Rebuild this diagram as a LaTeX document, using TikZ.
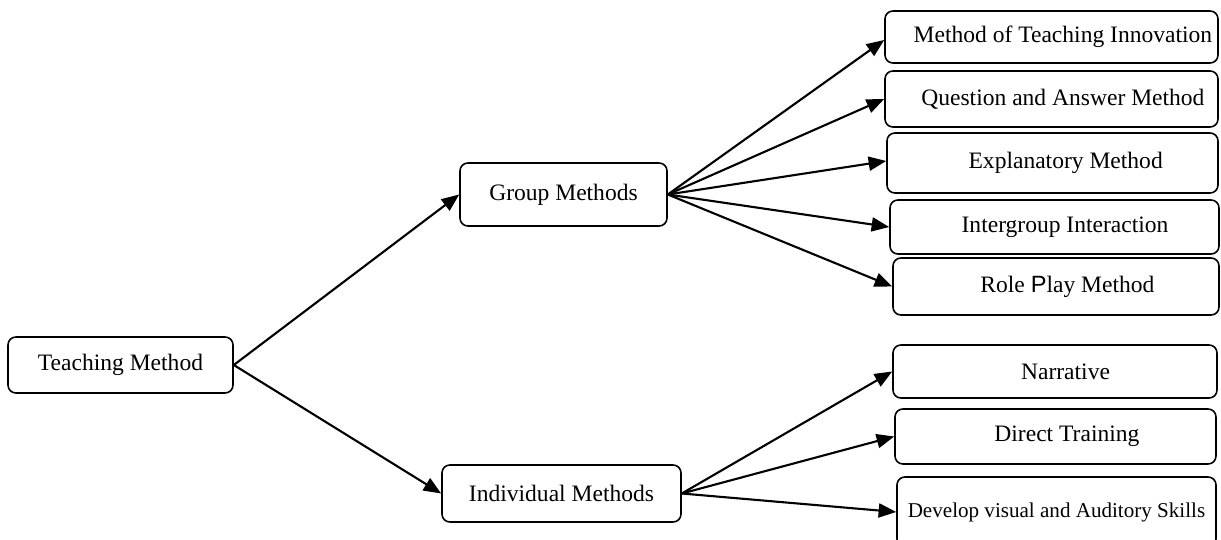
\documentclass[tikz,border=0pt]{standalone}
\usepackage{fontspec}
\setmainfont{Liberation Serif}
\newfontfamily\psans{Liberation Sans}
\usetikzlibrary{arrows.meta}
\tikzset{
  box/.style={draw, line width=0.9pt, rounded corners=4.5pt, inner sep=0pt, align=center, font=\fontsize{13.4}{15}\selectfont},
  conn/.style={line width=1.2pt, -{Triangle[length=10pt,width=8pt]}},
}
\begin{document}
\begin{tikzpicture}[x=0.02cm,y=-0.02cm]
\useasboundingbox (0,0) rectangle (1221,540);
\begin{scope}
\clip (0,0) rectangle (1221,540);
% level 0
\node[box, minimum width=225*0.02cm, minimum height=56*0.02cm] (tm) at (120.5,365) {Teaching Method};
% level 1
\node[box, minimum width=207*0.02cm, minimum height=63*0.02cm] (gm) at (563.5,194.5) {Group Methods};
\node[box, minimum width=239*0.02cm, minimum height=57*0.02cm] (im) at (561.5,493.5) {Individual Methods};
% level 2 group
\node[box, minimum width=333*0.02cm, minimum height=52*0.02cm] (mti) at (1051.5,37) {\hspace*{13pt}Method of Teaching Innovation};
\node[box, minimum width=333*0.02cm, minimum height=56*0.02cm] (qam) at (1051.5,99) {\hspace*{13pt}Question and Answer Method};
\node[box, minimum width=331*0.02cm, minimum height=60*0.02cm] (exm) at (1052.5,163) {\hspace*{15pt}Explanatory Method};
\node[box, minimum width=329*0.02cm, minimum height=54*0.02cm] (igi) at (1054.5,227) {\hspace*{12pt}Intergroup Interaction};
\node[box, minimum width=326*0.02cm, minimum height=57*0.02cm] (rpm) at (1056,286.5) {\hspace*{13pt}Role {\psans P}lay Method};
% level 2 individual
\node[box, minimum width=324*0.02cm, minimum height=53*0.02cm] (nar) at (1055,371.5) {\hspace*{12pt}Narrative};
\node[box, minimum width=321*0.02cm, minimum height=55*0.02cm] (dtr) at (1055.5,436.5) {\hspace*{13pt}Direct Training};
\node[box, minimum width=319*0.02cm, minimum height=70*0.02cm, font=\fontsize{12}{14}\selectfont] (dva) at (1056.5,512) {Develop visual and Auditory Skills};
\end{scope}
% connectors
\draw[conn] (tm.east) -- (gm.west);
\draw[conn] (tm.east) -- (im.west);
\draw[conn] (gm.east) -- ([yshift=-3*0.02cm]mti.west);
\draw[conn] (gm.east) -- (qam.west);
\draw[conn] (gm.east) -- ([yshift=2*0.02cm]exm.west);
\draw[conn] (gm.east) -- (igi.west);
\draw[conn] (gm.east) -- (rpm.west);
\draw[conn] (im.east) -- (nar.west);
\draw[conn] (im.east) -- (dtr.west);
\draw[conn] (im.east) -- (dva.west);
\end{tikzpicture}
\end{document}
